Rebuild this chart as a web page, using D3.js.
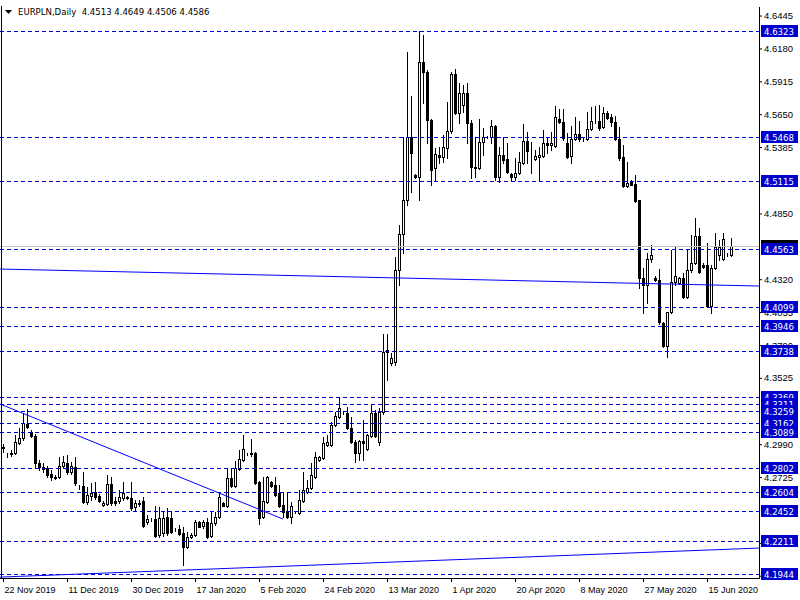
<!DOCTYPE html>
<html>
<head>
<meta charset="utf-8">
<title>EURPLN Daily</title>
<script src="https://cdnjs.cloudflare.com/ajax/libs/d3/7.8.5/d3.min.js"></script>
<style>
  body { margin: 0; background: #fff; }
  svg { display: block; font-family: "DejaVu Sans Condensed", "DejaVu Sans", sans-serif; }
</style>
</head>
<body>
<svg width="800" height="600"></svg>
<script>
// daily bars, 22 Nov 2019 .. 22 Jun 2020 (sunday bars included)
var opens = [4.2960,4.2903,4.2911,4.2919,4.3000,4.3040,4.3153,4.3088,4.3056,4.2838,4.2806,4.2798,4.2750,4.2726,4.2726,4.2814,4.2838,4.2766,4.2806,4.2647,
  4.2653,4.2524,4.2573,4.2605,4.2573,4.2500,4.2508,4.2669,4.2532,4.2532,4.2556,4.2565,4.2556,4.2484,4.2516,4.2532,4.2363,4.2379,4.2387,4.2258,
  4.2274,4.2403,4.2395,4.2298,4.2306,4.2274,4.2161,4.2242,4.2258,4.2363,4.2331,4.2363,4.2250,4.2355,4.2403,4.2516,4.2492,4.2718,4.2653,4.2790,
  4.2862,4.2911,4.2911,4.2919,4.2685,4.2403,4.2524,4.2685,4.2661,4.2597,4.2500,4.2451,4.2403,4.2443,4.2435,4.2532,4.2605,4.2637,4.2726,4.2862,
  4.2879,4.2984,4.2984,4.3145,4.3209,4.3241,4.3241,4.3121,4.3008,4.2919,4.3016,4.2951,4.3056,4.3241,4.3008,4.3249,4.3749,4.3644,4.3652,4.4394,
  4.4684,4.4958,4.5466,4.5160,4.5143,4.6070,4.5990,4.5603,4.5216,4.5321,4.5305,4.5377,4.5514,4.5974,4.5659,4.5724,4.5820,4.5579,4.5224,4.5216,
  4.5425,4.5466,4.5466,4.5554,4.5143,4.5321,4.5288,4.5168,4.5143,4.5176,4.5256,4.5434,4.5353,4.5288,4.5305,4.5313,4.5417,4.5401,4.5393,4.5611,
  4.5587,4.5417,4.5313,4.5450,4.5490,4.5458,4.5450,4.5530,4.5595,4.5595,4.5546,4.5659,4.5627,4.5587,4.5450,4.5305,4.5071,4.5103,4.5087,4.4958,
  4.4329,4.4273,4.4482,4.4329,4.4313,4.3967,4.3781,4.4055,4.4297,4.4289,4.4329,4.4176,4.4394,4.4450,4.4668,4.4434,4.4434,4.4104,4.4410,4.4515,
  4.4482,4.4523,4.4513];
var highs = [4.2992,4.2919,4.2943,4.3064,4.3121,4.3241,4.3273,4.3104,4.3072,4.2862,4.2838,4.2814,4.2782,4.2742,4.2887,4.2895,4.2903,4.2846,4.2887,4.2661,
  4.2766,4.2645,4.2677,4.2685,4.2589,4.2532,4.2742,4.2726,4.2565,4.2621,4.2685,4.2573,4.2685,4.2540,4.2540,4.2565,4.2419,4.2395,4.2492,4.2484,
  4.2443,4.2476,4.2443,4.2314,4.2338,4.2323,4.2282,4.2274,4.2379,4.2371,4.2379,4.2395,4.2443,4.2443,4.2597,4.2524,4.2798,4.2790,4.2854,4.2943,
  4.3064,4.2919,4.3032,4.2927,4.2693,4.2726,4.2734,4.2693,4.2726,4.2661,4.2605,4.2597,4.2524,4.2451,4.2621,4.2766,4.2701,4.2838,4.2927,4.2895,
  4.3048,4.3064,4.3169,4.3249,4.3370,4.3249,4.3289,4.3209,4.3024,4.3024,4.3185,4.3072,4.3306,4.3265,4.3281,4.3878,4.3878,4.3725,4.4498,4.4757,
  4.5466,4.6151,4.5796,4.5168,4.6320,4.6288,4.6006,4.5611,4.5377,4.5385,4.5482,4.5748,4.5990,4.6014,4.5901,4.5885,4.5901,4.5603,4.5466,4.5611,
  4.5538,4.5474,4.5603,4.5562,4.5385,4.5466,4.5417,4.5176,4.5296,4.5345,4.5571,4.5506,4.5425,4.5361,4.5385,4.5522,4.5466,4.5506,4.5716,4.5691,
  4.5691,4.5498,4.5554,4.5627,4.5595,4.5466,4.5667,4.5708,4.5716,4.5724,4.5708,4.5675,4.5651,4.5635,4.5546,4.5401,4.5264,4.5119,4.5160,4.4962,
  4.4410,4.4531,4.4595,4.4345,4.4402,4.3975,4.4055,4.4555,4.4579,4.4337,4.4370,4.4555,4.4676,4.4813,4.4732,4.4450,4.4611,4.4434,4.4692,4.4636,
  4.4692,4.4531,4.4649];
var lows = [4.2927,4.2887,4.2895,4.2911,4.2992,4.3024,4.3121,4.3048,4.2798,4.2782,4.2766,4.2726,4.2701,4.2709,4.2718,4.2806,4.2750,4.2750,4.2661,4.2629,
  4.2516,4.2508,4.2540,4.2548,4.2524,4.2492,4.2500,4.2500,4.2500,4.2516,4.2540,4.2548,4.2459,4.2459,4.2492,4.2323,4.2347,4.2371,4.2242,4.2242,
  4.2250,4.2258,4.2274,4.2290,4.2258,4.2016,4.2153,4.2234,4.2250,4.2323,4.2314,4.2234,4.2242,4.2339,4.2395,4.2492,4.2484,4.2645,4.2645,4.2782,
  4.2854,4.2903,4.2895,4.2669,4.2347,4.2395,4.2516,4.2645,4.2573,4.2484,4.2403,4.2395,4.2355,4.2435,4.2427,4.2524,4.2597,4.2629,4.2718,4.2854,
  4.2870,4.2976,4.2976,4.3137,4.3201,4.3233,4.3112,4.3000,4.2846,4.2862,4.2862,4.2943,4.3048,4.3048,4.2984,4.3233,4.3507,4.3628,4.3628,4.4273,
  4.4531,4.4918,4.5022,4.5135,4.4958,4.5740,4.5417,4.5079,4.5119,4.5256,4.5264,4.5296,4.5498,4.5655,4.5579,4.5667,4.5417,4.5135,4.5143,4.5208,
  4.5321,4.5458,4.5417,4.5119,4.5103,4.5256,4.5178,4.5119,4.5119,4.5168,4.5248,4.5256,4.5176,4.5280,4.5119,4.5305,4.5337,4.5361,4.5385,4.5579,
  4.5442,4.5296,4.5256,4.5442,4.5434,4.5434,4.5442,4.5522,4.5579,4.5522,4.5538,4.5611,4.5554,4.5442,4.5280,4.5063,4.5063,4.5077,4.4942,4.4249,
  4.4047,4.4128,4.4458,4.4305,4.3959,4.3773,4.3692,4.4047,4.4273,4.4281,4.4168,4.4168,4.4378,4.4442,4.4372,4.4410,4.4096,4.4047,4.4402,4.4474,
  4.4474,4.4507,4.4506];
var closes = [4.2968,4.2903,4.2919,4.3008,4.3040,4.3161,4.3129,4.3056,4.2838,4.2806,4.2790,4.2742,4.2726,4.2718,4.2814,4.2846,4.2766,4.2814,4.2677,4.2643,
  4.2524,4.2581,4.2597,4.2565,4.2532,4.2516,4.2669,4.2516,4.2516,4.2565,4.2597,4.2556,4.2476,4.2516,4.2508,4.2331,4.2387,4.2377,4.2250,4.2395,
  4.2395,4.2274,4.2282,4.2296,4.2266,4.2161,4.2242,4.2258,4.2363,4.2325,4.2363,4.2242,4.2355,4.2403,4.2565,4.2494,4.2718,4.2653,4.2798,4.2870,
  4.2951,4.2913,4.2919,4.2677,4.2395,4.2532,4.2726,4.2653,4.2581,4.2492,4.2443,4.2403,4.2492,4.2445,4.2540,4.2621,4.2637,4.2742,4.2887,4.2887,
  4.3000,4.3008,4.3145,4.3217,4.3281,4.3239,4.3121,4.3008,4.2919,4.3016,4.3000,4.3064,4.3241,4.3056,4.3249,4.3733,4.3733,4.3684,4.4394,4.4684,
  4.4958,4.5466,4.5337,4.5143,4.6070,4.5990,4.5603,4.5200,4.5329,4.5305,4.5385,4.5514,4.5974,4.5661,4.5820,4.5820,4.5579,4.5224,4.5216,4.5425,
  4.5466,4.5464,4.5554,4.5143,4.5321,4.5280,4.5184,4.5143,4.5176,4.5264,4.5434,4.5353,4.5350,4.5313,4.5321,4.5417,4.5401,4.5417,4.5627,4.5587,
  4.5458,4.5305,4.5450,4.5490,4.5450,4.5456,4.5530,4.5595,4.5593,4.5538,4.5659,4.5619,4.5587,4.5450,4.5296,4.5071,4.5095,4.5081,4.4950,4.4329,
  4.4273,4.4482,4.4515,4.4313,4.3975,4.3781,4.4053,4.4297,4.4345,4.4329,4.4176,4.4394,4.4450,4.4668,4.4378,4.4418,4.4104,4.4410,4.4579,4.4579,
  4.4644,4.4521,4.4586];

// price scale labels that show on the right (the rest sit under the level tags)
var priceTicks = [4.6445,4.6180,4.5915,4.5650,4.5385,4.4850,4.4320,4.4055,4.3790,4.3525,4.2990,4.2725,4.2195,4.1930];
// horizontal levels (dashed), top to bottom
var levels = [4.6323,4.5468,4.5115,4.4563,4.4099,4.3946,4.3738,4.3369,4.3311,4.3259,4.3162,4.3089,4.2802,4.2604,4.2452,4.2211,4.1944];
// time labels every 16 bars
var dateBars = [0,16,32,48,64,80,96,112,128,144,160,176];
var dateLabels = ["22 Nov 2019","11 Dec 2019","30 Dec 2019","17 Jan 2020","5 Feb 2020","24 Feb 2020",
  "13 Mar 2020","1 Apr 2020","20 Apr 2020","8 May 2020","27 May 2020","15 Jun 2020"];
// trend lines: [bar, price] pairs
var trendLines = [
  [[-0.75, 4.4402], [189, 4.4265]],
  [[-0.75, 4.3314], [70, 4.2387]],
  [[-0.75, 4.1919], [189, 4.2153]]
];
var lastBid = 4.4586;

var svg = d3.select("svg");
var plotL = 0, plotR = 759, plotT = 7, plotB = 578;

var x = d3.scaleLinear().domain([0, 189]).range([3, 759]);
var y = d3.scaleLinear().domain([4.19118, 4.65140]).range([plotB, plotT]);
var py = function(v) { return Math.round(y(v)); };
var fmt = d3.format(".4f");

svg.append("rect").attr("width", 800).attr("height", 600).attr("fill", "#fff");

// candles
var bars = d3.range(opens.length);
var candles = svg.append("g");
candles.selectAll("line.wick").data(bars).enter().append("line")
  .attr("class", "wick")
  .attr("x1", i => Math.round(x(i)) + 0.5).attr("x2", i => Math.round(x(i)) + 0.5)
  .attr("y1", i => py(highs[i])).attr("y2", i => py(lows[i]) + 1)
  .attr("stroke", "#000").attr("stroke-width", 1);

candles.selectAll("rect.body").data(bars).enter().append("rect")
  .attr("class", "body")
  .attr("x", i => Math.round(x(i)) - 0.5)
  .attr("y", i => Math.min(py(opens[i]), py(closes[i])) + 0.5)
  .attr("width", 2)
  .attr("height", i => Math.abs(py(opens[i]) - py(closes[i])))
  .attr("fill", i => closes[i] >= opens[i] ? "#fff" : "#000")
  .attr("stroke", "#000").attr("stroke-width", 1);

// bid line
svg.append("line")
  .attr("x1", plotL).attr("x2", plotR)
  .attr("y1", py(lastBid) + 0.5).attr("y2", py(lastBid) + 0.5)
  .attr("stroke", "#c0c0c0");

// level lines
svg.append("g").selectAll("line").data(levels).enter().append("line")
  .attr("x1", plotL).attr("x2", plotR)
  .attr("y1", d => py(d) + 0.5).attr("y2", d => py(d) + 0.5)
  .attr("stroke", "#0000cd").attr("stroke-dasharray", "4,3");

// trend lines
var line = d3.line().x(d => x(d[0])).y(d => y(d[1]));
svg.append("g").selectAll("path").data(trendLines).enter().append("path")
  .attr("d", line).attr("fill", "none").attr("stroke", "#0000ff").attr("stroke-width", 1);

// white margins around plot
svg.append("rect").attr("x", plotR).attr("y", 0).attr("width", 800 - plotR).attr("height", 600).attr("fill", "#fff");
svg.append("rect").attr("x", 0).attr("y", plotB).attr("width", 800).attr("height", 600 - plotB).attr("fill", "#fff");

// right price axis
var yAxis = d3.axisRight(y).tickValues(priceTicks).tickSize(3).tickSizeOuter(0).tickPadding(2)
  .tickFormat(fmt);
var ya = svg.append("g").attr("transform", "translate(" + plotR + ",0)").call(yAxis);
ya.select(".domain").attr("d", "M0.5," + plotT + "V" + (plotB + 1));
ya.selectAll("text").attr("font-size", 9.5).attr("font-family", null).attr("fill", "#000");

// bottom time axis
var xAxis = d3.axisBottom(x).tickValues(dateBars).tickSize(4).tickSizeOuter(0)
  .tickFormat((d, i) => dateLabels[i]);
var xa = svg.append("g").attr("transform", "translate(0," + plotB + ")").call(xAxis);
xa.select(".domain").attr("d", "M" + plotL + ",0.5H" + (plotR + 1));
xa.selectAll("text").attr("font-size", 9).attr("font-family", null)
  .attr("text-anchor", "start").attr("dx", 1).attr("y", 9);

// left frame
svg.append("line").attr("x1", 1.5).attr("x2", 1.5).attr("y1", 6).attr("y2", plotB + 1).attr("stroke", "#000");

// price tags: bid first, then levels on top
var bidG = svg.append("g").attr("transform", "translate(" + (plotR + 2) + "," + py(lastBid) + ")");
bidG.append("rect").attr("x", 0).attr("y", -6).attr("width", 37).attr("height", 12).attr("fill", "#000");
bidG.append("text").attr("x", 3).attr("y", 3.5).attr("font-size", 9.5).attr("fill", "#fff").text(fmt(lastBid));

var lab = svg.append("g").selectAll("g").data(levels).enter().append("g")
  .attr("transform", d => "translate(" + (plotR + 2) + "," + py(d) + ")");
lab.append("rect").attr("x", 0).attr("y", -6).attr("width", 37).attr("height", 12).attr("fill", "#0000cd");
lab.append("text").attr("x", 3).attr("y", 3.5).attr("font-size", 9.5).attr("fill", "#fff").text(d => fmt(d));

// header
svg.append("path").attr("d", "M5,10H12L8.5,14Z").attr("fill", "#000");
svg.append("text").attr("x", 18).attr("y", 15).attr("font-size", 9.5)
  .style("white-space", "pre")
  .text("EURPLN,Daily  " + [opens, highs, lows, closes].map(a => fmt(a[a.length - 1])).join(" "));
</script>
</body>
</html>
